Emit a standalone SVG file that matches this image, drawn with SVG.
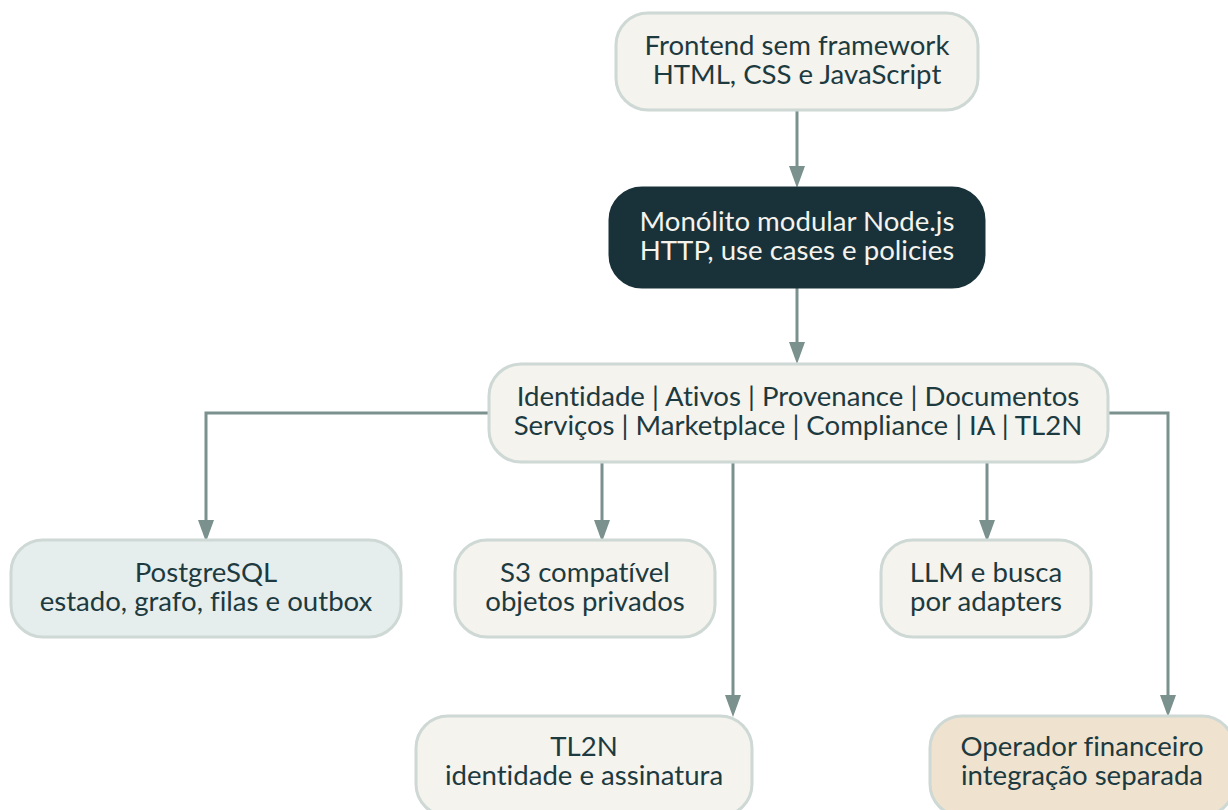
<svg xmlns="http://www.w3.org/2000/svg" width="1228" height="810" viewBox="0 0 1228 810">
<defs>
<style>
.box{fill:#f4f3ee;stroke:#ced8d5;stroke-width:3}
.pg{fill:#e6eeed}
.op{fill:#efe3cf}
.dark{fill:#19323a;stroke:#19323a}
text{font-family:Lato,"Noto Sans","Liberation Sans",sans-serif;font-size:27.6px;fill:#1d3a40;text-anchor:middle;font-variant-ligatures:none}
.lt{fill:#f4f3ee}
.c{fill:none;stroke:#7a918d;stroke-width:3}
.h{fill:#7a918d}
</style>
</defs>
<rect width="1228" height="810" fill="#ffffff"/>
<g id="connectors">
<path class="c" d="M797,110 V177"/>
<path class="h" d="M789,166 L805,166 L797,188 Z"/>
<path class="c" d="M797,287 V353"/>
<path class="h" d="M789,342 L805,342 L797,364 Z"/>
<path class="c" d="M489,413 H206 V530"/>
<path class="h" d="M198,520 L214,520 L206,542 Z"/>
<path class="c" d="M602,462 V530"/>
<path class="h" d="M594,520 L610,520 L602,542 Z"/>
<path class="c" d="M733,462 V705"/>
<path class="h" d="M725,695 L741,695 L733,717 Z"/>
<path class="c" d="M987,462 V530"/>
<path class="h" d="M979,520 L995,520 L987,542 Z"/>
<path class="c" d="M1108,413 H1168 V705"/>
<path class="h" d="M1160,695 L1176,695 L1168,717 Z"/>
</g>
<g id="frontend">
<rect class="box" x="616" y="13" width="362" height="97" rx="32"/>
<text x="797" y="55">Frontend sem framework</text>
<text x="797" y="84">HTML, CSS e JavaScript</text>
</g>
<g id="monolito">
<rect class="box dark" x="610" y="188" width="374" height="99" rx="32"/>
<text class="lt" x="797" y="231">Monólito modular Node.js</text>
<text class="lt" x="797" y="260">HTTP, use cases e policies</text>
</g>
<g id="modulos">
<rect class="box" x="489" y="364" width="619" height="98" rx="32"/>
<text x="798" y="406">Identidade | Ativos | Provenance | Documentos</text>
<text x="798" y="435">Serviços | Marketplace | Compliance | IA | TL2N</text>
</g>
<g id="postgresql">
<rect class="box pg" x="11" y="540" width="390" height="97" rx="32"/>
<text x="206" y="582">PostgreSQL</text>
<text x="206" y="611">estado, grafo, filas e outbox</text>
</g>
<g id="s3">
<rect class="box" x="455" y="540" width="260" height="97" rx="32"/>
<text x="585" y="582">S3 compatível</text>
<text x="585" y="611">objetos privados</text>
</g>
<g id="llm">
<rect class="box" x="881" y="540" width="210" height="97" rx="32"/>
<text x="986" y="582">LLM e busca</text>
<text x="986" y="611">por adapters</text>
</g>
<g id="tl2n">
<rect class="box" x="416" y="716" width="336" height="100" rx="32"/>
<text x="584" y="756">TL2N</text>
<text x="584" y="785">identidade e assinatura</text>
</g>
<g id="operador">
<rect class="box op" x="930" y="716" width="304" height="100" rx="32"/>
<text x="1082" y="756">Operador financeiro</text>
<text x="1082" y="785">integração separada</text>
</g>
</svg>
